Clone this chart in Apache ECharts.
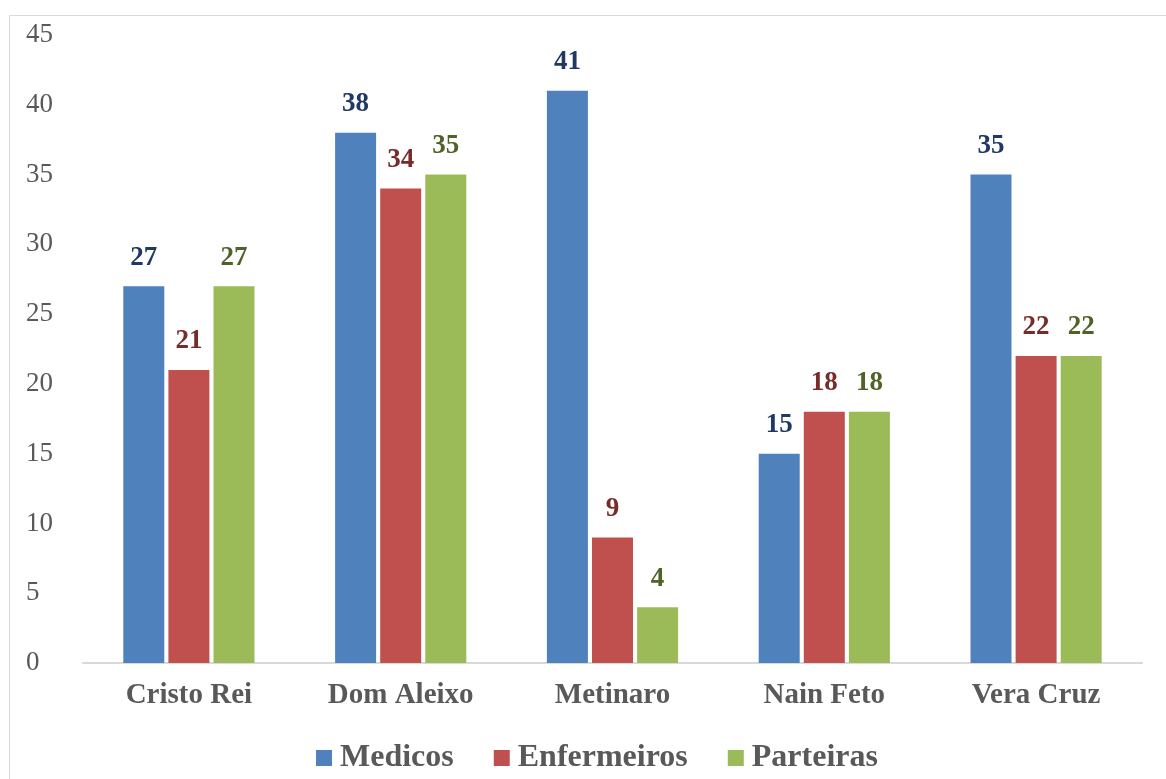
<!DOCTYPE html>
<html>
<head>
<meta charset="utf-8">
<script src="https://cdn.jsdelivr.net/npm/echarts@6/dist/echarts.min.js"></script>
<style>
  html, body { margin: 0; padding: 0; background: #fff; }
  #chart { width: 1166px; height: 779px; }
</style>
</head>
<body>
<div id="chart"></div>
<script>
// data
const categories = ['Cristo Rei', 'Dom Aleixo', 'Metinaro', 'Nain Feto', 'Vera Cruz'];
const medicos = [27, 38, 41, 15, 35];
const enfermeiros = [21, 34, 9, 18, 22];
const parteiras = [27, 35, 4, 18, 22];
const yTicks = [0, 45, 5]; // min, max, step

const serif = '"Liberation Serif", "Times New Roman", serif';

function barSeries(name, data, color, labelColor) {
  return {
    name: name,
    type: 'bar',
    data: data,
    barWidth: 41,
    barGap: '10%',
    itemStyle: { color: color },
    label: {
      show: true,
      position: 'top',
      distance: 15,
      color: labelColor,
      fontFamily: serif,
      fontWeight: 'bold',
      fontSize: 27
    }
  };
}

const chart = echarts.init(document.getElementById('chart'));
chart.setOption({
  animation: false,
  backgroundColor: '#fff',
  graphic: [{
    type: 'rect',
    shape: { x: 9.5, y: 15.5, width: 1200, height: 800 },
    style: { fill: 'none', stroke: '#d9d9d9', lineWidth: 1 },
    silent: true
  }],
  grid: { left: 83, right: 24, top: 35, bottom: 116 },
  legend: {
    top: 737,
    left: 311,
    itemWidth: 16,
    itemHeight: 16,
    itemGap: 40,
    icon: 'rect',
    textStyle: { color: '#595959', fontFamily: serif, fontWeight: 'bold', fontSize: 32, padding: [0, 0, 0, 3] },
    data: ['Medicos', 'Enfermeiros', 'Parteiras']
  },
  xAxis: {
    type: 'category',
    data: categories,
    axisLine: { lineStyle: { color: '#d9d9d9', width: 2 } },
    axisTick: { show: false },
    axisLabel: {
      color: '#595959',
      fontFamily: serif,
      fontWeight: 'bold',
      fontSize: 29,
      margin: 18
    }
  },
  yAxis: {
    type: 'value',
    min: yTicks[0],
    max: yTicks[1],
    interval: yTicks[2],
    axisLine: { show: false },
    axisTick: { show: false },
    splitLine: { show: false },
    axisLabel: {
      color: '#595959',
      fontFamily: serif,
      fontSize: 27,
      align: 'left',
      margin: 57
    }
  },
  series: [
    barSeries('Medicos', medicos, '#4F81BD', '#1F3864'),
    barSeries('Enfermeiros', enfermeiros, '#C0504D', '#772C2A'),
    barSeries('Parteiras', parteiras, '#9BBB59', '#4F6228')
  ]
});
</script>
</body>
</html>
